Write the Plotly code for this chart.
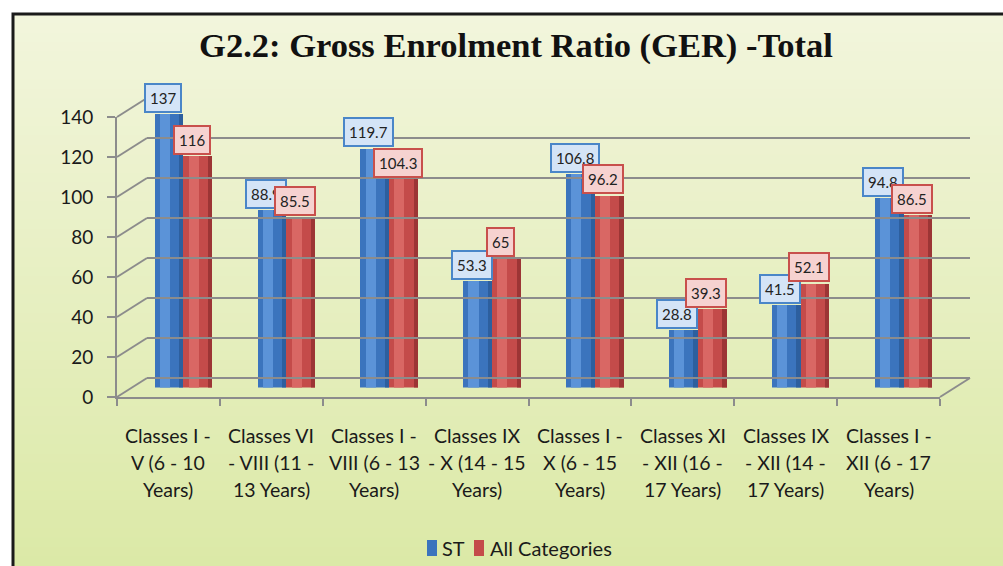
import plotly.graph_objects as go

categories = ["Classes I -<br>V (6 - 10<br>Years)",
              "Classes VI<br>- VIII (11 -<br>13 Years)",
              "Classes I -<br>VIII (6 - 13<br>Years)",
              "Classes IX<br>- X (14 - 15<br>Years)",
              "Classes I -<br>X (6 - 15<br>Years)",
              "Classes XI<br>- XII (16 -<br>17 Years)",
              "Classes IX<br>- XII (14 -<br>17 Years)",
              "Classes I -<br>XII (6 - 17<br>Years)"]
st_values = [137, 88.9, 119.7, 53.3, 106.8, 28.8, 41.5, 94.8]
all_values = [116, 85.5, 104.3, 65, 96.2, 39.3, 52.1, 86.5]
y_ticks = [0, 20, 40, 60, 80, 100, 120, 140]
series_names = ["ST", "All Categories"]
series_colors = ["#3b74bd", "#c44b4a"]

W, H = 1003, 566
OFF = 0  # body margin removed via post_script
SX0, SX1, SY0, SY1 = 117, 970, 98, 397
L = SX0 - OFF
R = W - (SX1 - OFF)
T = SY0 - OFF
B = H - (SY1 - OFF)
pw, ph = W - L - R, H - T - B
YMAX = 140
dx, dy = 30, 19

def px_x(p):
    return (p - OFF - L) / pw

def px_y(p):
    return (H - B - (p - OFF)) / ph

front_xd = [0, (pw - dx) / pw]
back_xd = [dx / pw, 1]
bar_xd = [dx / 2 / pw, (pw - dx / 2) / pw]
front_yd = [0, (ph - dy) / ph]
back_yd = [dy / ph, 1]
bar_yd = [dy / 2 / ph, (ph - dy / 2) / ph]

idx = list(range(len(categories)))
BW = 0.28
cat_px = (pw - dx) / len(categories)

fig = go.Figure()
fig.add_trace(go.Bar(x=idx, y=st_values, name=series_names[0], width=BW, offset=-BW,
                     marker=dict(color=series_colors[0], line=dict(width=0)), xaxis="x", yaxis="y"))
fig.add_trace(go.Bar(x=idx, y=all_values, name=series_names[1], width=BW, offset=0,
                     marker=dict(color=series_colors[1], line=dict(width=0)), xaxis="x", yaxis="y"))
shade = [
    (st_values, BW * 0.35, -BW * 0.82, "#5b93d8"),
    (st_values, BW * 0.15, -BW * 0.15, "#2d5f9e"),
    (all_values, BW * 0.35, BW * 0.18, "#d96764"),
    (all_values, BW * 0.15, BW * 0.85, "#9c3535"),
]
for vals, w, o, c in shade:
    fig.add_trace(go.Bar(x=idx, y=vals, width=w, offset=o,
                         marker=dict(color=c, line=dict(width=0)), showlegend=False,
                         hoverinfo="skip", xaxis="x", yaxis="y"))
fig.add_trace(go.Scatter(x=idx, y=[0] * len(idx), mode="markers", marker=dict(opacity=0),
                         showlegend=False, hoverinfo="skip", xaxis="x2", yaxis="y2"))
fig.add_trace(go.Scatter(x=idx, y=[0] * len(idx), mode="markers", marker=dict(opacity=0),
                         showlegend=False, hoverinfo="skip", xaxis="x3", yaxis="y3"))

gray = "#8c8c8c"
fig.update_layout(
    width=W, height=H,
    margin=dict(l=L, r=R, t=T, b=B),
    paper_bgcolor="white", plot_bgcolor="rgba(0,0,0,0)",
    barmode="overlay", bargap=0,
    font=dict(family="Lato, Liberation Sans, sans-serif", color="#1a1a1a"),
    title=dict(text="<b>G2.2: Gross Enrolment Ratio (GER) -Total</b>",
               font=dict(family="Liberation Serif, DejaVu Serif, serif", size=34.5, color="#111"),
               x=(516 - OFF) / W, xanchor="center", y=1 - (45 - OFF) / H, yanchor="middle"),
    xaxis=dict(domain=bar_xd, range=[-0.5, 7.5], visible=False, fixedrange=True),
    yaxis=dict(domain=bar_yd, range=[0, YMAX], visible=False, fixedrange=True),
    xaxis2=dict(domain=front_xd, range=[-0.5, 7.5], anchor="y2", showline=True, linecolor=gray,
                linewidth=2, tickvals=[i - 0.5 for i in idx] + [len(idx) - 0.5], ticks="outside",
                ticklen=7, tickcolor=gray, tickwidth=2, showticklabels=False, showgrid=False,
                zeroline=False),
    yaxis2=dict(domain=front_yd, range=[0, YMAX], anchor="x2", showline=True, linecolor=gray,
                linewidth=2, tickvals=y_ticks, ticks="outside", ticklen=8, tickcolor=gray,
                tickwidth=2, ticklabelstandoff=10, showgrid=False, zeroline=False,
                tickfont=dict(size=19, color="#1a1a1a")),
    xaxis3=dict(domain=back_xd, range=[-0.5, 7.5], anchor="y3", visible=False),
    yaxis3=dict(domain=back_yd, range=[0, YMAX], anchor="x3", tickvals=y_ticks,
                showticklabels=False, showgrid=True, gridcolor=gray, gridwidth=2,
                zeroline=True, zerolinecolor=gray, zerolinewidth=2, showline=False),
    showlegend=False,
)

shapes = []
top_c = (242, 245, 220)
bot_c = (219, 233, 166)
n = 60
x0p, x1p = px_x(13), px_x(1012)
for i in range(n):
    t = i / (n - 1)
    c = tuple(round(top_c[k] + (bot_c[k] - top_c[k]) * t) for k in range(3))
    ya = 14 + (575 - 14) * i / n
    yb = 14 + (575 - 14) * (i + 1) / n + 1
    shapes.append(dict(type="rect", xref="paper", yref="paper", x0=x0p, x1=x1p,
                       y0=px_y(ya), y1=px_y(yb), fillcolor="rgb(%d,%d,%d)" % c,
                       line=dict(width=0), layer="below"))
shapes.append(dict(type="rect", xref="paper", yref="paper", x0=px_x(13), x1=px_x(1014),
                   y0=px_y(580), y1=px_y(14), line=dict(color="#1a1a1a", width=3),
                   fillcolor="rgba(0,0,0,0)", layer="below"))
fh = front_yd[1] - front_yd[0]
for v in y_ticks:
    yf = front_yd[0] + v / YMAX * fh
    yb_ = back_yd[0] + v / YMAX * fh
    shapes.append(dict(type="line", xref="paper", yref="paper", x0=front_xd[0], y0=yf,
                       x1=back_xd[0], y1=yb_, line=dict(color=gray, width=2), layer="below"))
shapes.append(dict(type="line", xref="paper", yref="paper", x0=front_xd[1], y0=front_yd[0],
                   x1=back_xd[1], y1=back_yd[0], line=dict(color=gray, width=2), layer="below"))

legend_items = [(427, 440), (474, 488)]
annotations = []
for (sq_x, tx_x), name, col in zip(legend_items, series_names, series_colors):
    shapes.append(dict(type="rect", xref="paper", yref="paper", x0=px_x(sq_x), x1=px_x(sq_x + 10),
                       y0=px_y(556), y1=px_y(540), fillcolor=col, line=dict(width=0)))
    annotations.append(dict(x=px_x(tx_x), y=px_y(548), xref="paper", yref="paper", text=name,
                            showarrow=False, xanchor="left", yanchor="middle",
                            font=dict(size=20, color="#1a1a1a")))
fig.update_layout(shapes=shapes)

for i in idx:
    annotations.append(dict(x=i, y=st_values[i], xref="x", yref="y", text=str(st_values[i]),
                            showarrow=False, xshift=-BW * 0.5 * cat_px - 6, yshift=16,
                            font=dict(size=15, color="#222"), bgcolor="#d4e4f7",
                            bordercolor="#4a86c8", borderwidth=2, borderpad=4))
    annotations.append(dict(x=i, y=all_values[i], xref="x", yref="y", text=str(all_values[i]),
                            showarrow=False, xshift=BW * 0.5 * cat_px - 6, yshift=16,
                            font=dict(size=15, color="#222"), bgcolor="#f6d2d0",
                            bordercolor="#c8504c", borderwidth=2, borderpad=4))
line_y = [435, 462, 489]
for i, cat in enumerate(categories):
    for j, part in enumerate(cat.split("<br>")):
        annotations.append(dict(x=i, y=px_y(line_y[j]), xref="x2", yref="paper", text=part,
                                showarrow=False, yanchor="middle",
                                font=dict(size=19.5, color="#1a1a1a")))
fig.update_layout(annotations=annotations)

fig.write_html("out.html", config={"displayModeBar": False},
               post_script="document.body.style.margin='0';document.body.style.overflow='hidden';")
